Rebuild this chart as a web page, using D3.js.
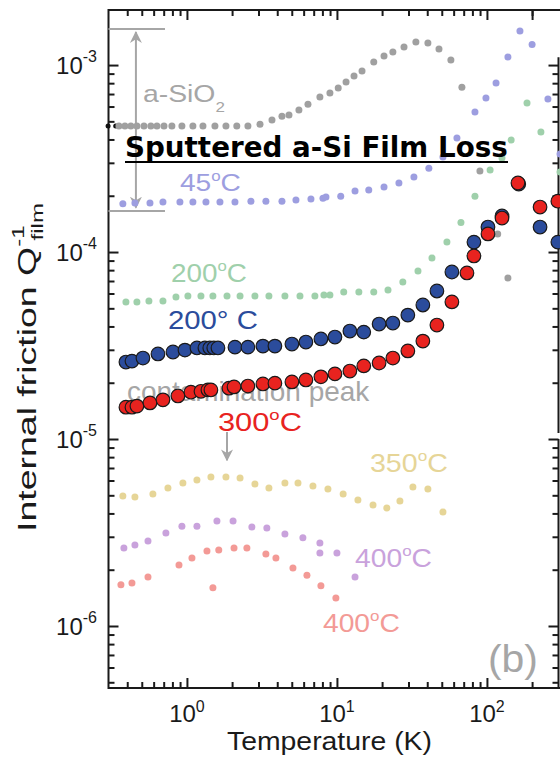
<!DOCTYPE html>
<html>
<head>
<meta charset="utf-8">
<script src="https://cdn.jsdelivr.net/npm/d3@7"></script>
<style>
  body { margin: 0; background: #fff; }
  text { font-family: "Liberation Sans", Arial, sans-serif; }
</style>
</head>
<body>
<div id="chart"></div>
<script>

// each point is [temperature (K), internal friction Q^-1]
var blackDots = [[0.298, 4.72e-4], [0.335, 4.72e-4]];

var aSiO2 = [[0.352,4.72e-4],[0.386,4.72e-4],[0.423,4.72e-4],[0.464,4.72e-4],[0.517,4.72e-4],
  [0.575,4.72e-4],[0.631,4.72e-4],[0.703,4.72e-4],[0.794,4.72e-4],[0.926,4.72e-4],[1.096,4.72e-4],
  [1.279,4.72e-4],[1.537,4.72e-4],[1.82,4.72e-4],[2.15,4.72e-4],[2.55,4.72e-4],[3.07,4.83e-4],
  [3.69,5.08e-4],[4.30,5.33e-4],[4.79,5.40e-4],[5.58,5.75e-4],[6.41,6.18e-4],[7.70,6.74e-4],
  [8.98,7.08e-4],[10.2,7.53e-4],[11.5,8.11e-4],[13.0,8.73e-4],[14.7,9.29e-4],[17.6,1.038e-3],
  [20.6,1.117e-3],[23.6,1.174e-3],[28.0,1.248e-3],[33.6,1.327e-3],[40.4,1.312e-3],[47.9,1.219e-3],
  [57.5,1.064e-3],[68.1,7.62e-4],[89.8,2.71e-4],[118,1.25e-4],[138,7.26e-5]];

var film45 = [[0.374,1.81e-4],[0.450,1.83e-4],[0.567,1.83e-4],[0.692,1.85e-4],[0.898,1.85e-4],
  [1.096,1.85e-4],[1.339,1.85e-4],[1.66,1.85e-4],[2.09,1.85e-4],[2.67,1.87e-4],[3.36,1.87e-4],
  [4.30,1.87e-4],[5.33,1.90e-4],[6.71,1.92e-4],[8.07,1.94e-4],[8.45,1.97e-4],[10.6,1.99e-4],
  [13.2,2.12e-4],[16.3,2.15e-4],[20.6,2.23e-4],[25.9,2.34e-4],[32.6,2.52e-4],[41.0,2.81e-4],
  [50.9,3.22e-4],[63.1,4.07e-4],[83.2,5.61e-4],[98.5,6.67e-4],[115,8.01e-4],[138,1.104e-3],
  [166,1.52e-3],[200,1.29e-3],[255,6.58e-4],[307,3.34e-4]];

var film200g = [[0.392,5.41e-5],[0.464,5.41e-5],[0.558,5.48e-5],[0.692,5.48e-5],[0.845,5.75e-5],
  [1.015,5.82e-5],[1.24,5.82e-5],[1.49,5.82e-5],[1.85,5.82e-5],[2.26,5.82e-5],[2.84,5.82e-5],
  [3.52,5.82e-5],[4.50,5.82e-5],[5.67,5.82e-5],[7.13,5.82e-5],[8.19,5.89e-5],[8.98,5.89e-5],
  [11.1,6.11e-5],[14.0,6.11e-5],[17.6,6.11e-5],[21.9,6.26e-5],[27.5,6.92e-5],[34.7,7.92e-5],
  [43.0,9.29e-5],[54.1,1.13e-4],[67.1,1.44e-4],[83.2,1.99e-4],[105,2.75e-4],[126,3.18e-4],
  [145,3.97e-4],[185,6.26e-4],[229,4.38e-4],[307,2.68e-4]];

var film200b = [[0.392,2.58e-5],[0.430,2.61e-5],[0.509,2.71e-5],[0.641,2.85e-5],[0.807,2.92e-5],
  [0.970,2.99e-5],[1.166,3.07e-5],[1.318,3.07e-5],[1.42,3.07e-5],[1.51,3.07e-5],[1.61,3.07e-5],
  [2.09,3.10e-5],[2.55,3.10e-5],[3.21,3.14e-5],[3.86,3.14e-5],[5.01,3.22e-5],[6.21,3.30e-5],
  [7.82,3.43e-5],[9.70,3.51e-5],[12.2,3.78e-5],[15.1,3.73e-5],[19.1,4.12e-5],[23.6,4.17e-5],
  [29.7,4.60e-5],[37.4,5.21e-5],[46.4,6.19e-5],[58.4,7.82e-5],[81.9,1.13e-4],[101.6,1.36e-4],
  [126,1.56e-4],[163,2.31e-4],[226,1.36e-4],[297,1.13e-4]];

var film300 = [[0.392,1.48e-5],[0.430,1.48e-5],[0.464,1.50e-5],[0.567,1.56e-5],[0.692,1.62e-5],
  [0.871,1.70e-5],[1.063,1.78e-5],[1.24,1.80e-5],[1.38,1.83e-5],[1.445,1.83e-5],[1.905,1.87e-5],
  [2.06,1.90e-5],[2.55,1.92e-5],[3.21,1.97e-5],[3.86,1.99e-5],[5.01,2.02e-5],[6.21,2.07e-5],
  [7.82,2.15e-5],[9.70,2.23e-5],[12.2,2.31e-5],[15.1,2.46e-5],[19.1,2.55e-5],[23.6,2.71e-5],
  [29.7,2.96e-5],[37.4,3.34e-5],[46.4,4.07e-5],[58.4,5.41e-5],[73.6,7.73e-5],[81.9,9.53e-5],
  [101.6,1.25e-4],[126,1.52e-4],[161,2.34e-4],[226,1.74e-4],[297,1.87e-4]];

var film350 = [[0.374,4.95e-6],[0.450,4.90e-6],[0.593,5.08e-6],[0.747,5.47e-6],[0.940,5.82e-6],
  [1.166,6.04e-6],[1.445,6.27e-6],[1.82,6.27e-6],[2.26,6.19e-6],[2.84,5.74e-6],[3.52,5.47e-6],
  [4.50,5.82e-6],[5.50,5.82e-6],[6.92,5.61e-6],[8.71,5.41e-6],[11.0,5.08e-6],[13.8,4.72e-6],
  [17.4,4.44e-6],[21.5,4.28e-6],[26.3,4.66e-6],[32.1,5.54e-6],[40.4,5.41e-6],[50.9,4.07e-6]];

var film400p = [[0.380,2.61e-6],[0.450,2.71e-6],[0.550,2.85e-6],[0.724,3.14e-6],[0.926,3.42e-6],
  [1.166,3.42e-6],[1.585,3.64e-6],[2.03,3.64e-6],[2.71,3.38e-6],[3.41,3.34e-6],[4.50,3.10e-6],
  [5.93,2.96e-6],[7.70,2.78e-6],[7.70,2.46e-6],[10.0,2.46e-6],[13.2,1.83e-6]];

var film400s = [[0.363,1.66e-6],[0.430,1.70e-6],[0.550,1.83e-6],[0.885,2.12e-6],[1.08,2.31e-6],
  [1.36,2.52e-6],[1.63,2.55e-6],[2.06,2.61e-6],[2.51,2.61e-6],[3.36,2.43e-6],[3.92,2.31e-6],
  [1.49,1.60e-6],[5.09,2.04e-6],[6.31,1.87e-6],[7.82,1.64e-6],[9.84,1.41e-6]];

var xMajor = [1, 10, 100];
var yMajor = [1e-6, 1e-5, 1e-4, 1e-3];
var xLabels = [["10", "0"], ["10", "1"], ["10", "2"]];
var yLabels = [["10", "-6"], ["10", "-5"], ["10", "-4"], ["10", "-3"]];

var width = 560, height = 763;
var plot = { left: 108.5, right: 558.5, top: 10, bottom: 688 };

var x = d3.scaleLog().domain([0.3, 300]).range([plot.left, plot.right]);
var y = d3.scaleLog().domain([4.66e-7, 1.97e-3]).range([plot.bottom, plot.top]);

var xMinor = [], yMinor = [];
[0.1, 1, 10, 100].forEach(function(d) {
  for (var k = 2; k <= 9; k++) {
    var v = d * k;
    if (v > 0.31 && v < 290) xMinor.push(v);
  }
});
[1e-7, 1e-6, 1e-5, 1e-4, 1e-3].forEach(function(d) {
  for (var k = 2; k <= 9; k++) {
    var v = d * k;
    if (v > 4.7e-7 && v < 1.96e-3) yMinor.push(v);
  }
});

var svg = d3.select("#chart").append("svg")
  .attr("width", width)
  .attr("height", height);

var defs = svg.append("defs");
defs.append("marker")
  .attr("id", "head")
  .attr("viewBox", "0 0 10 10")
  .attr("refX", 9).attr("refY", 5)
  .attr("markerWidth", 6).attr("markerHeight", 7)
  .attr("markerUnits", "strokeWidth")
  .attr("orient", "auto-start-reverse")
  .append("path")
  .attr("d", "M0,0 L10,5 L0,10 L3,5 Z")
  .attr("fill", "#a6a6a6");

// stretch a text horizontally so that it spans `target` px from its left edge
function stretchTo(t, target) {
  var b = t.node().getBBox();
  var sx = target / b.width;
  t.attr("transform", "translate(" + b.x + ",0) scale(" + sx + ",1) translate(" + (-b.x) + ",0)");
}

// ---- axes ----
function drawTicks(axis, transform, values, size) {
  svg.append("g")
    .attr("transform", transform)
    .call(axis.tickValues(values).tickSize(size).tickFormat(""))
    .call(function(g) {
      g.select(".domain").remove();
      g.selectAll("line").attr("stroke", "#1a1a1a").attr("stroke-width", 2);
    });
}

var rightMinor = yMinor.filter(function(v) { return v < 1.1e-3; });
drawTicks(d3.axisBottom(x), "translate(0," + plot.bottom + ")", xMajor, -10);
drawTicks(d3.axisBottom(x), "translate(0," + plot.bottom + ")", xMinor, -6);
drawTicks(d3.axisTop(x), "translate(0," + plot.top + ")", xMajor.concat([200]), -10);
drawTicks(d3.axisTop(x), "translate(0," + plot.top + ")", xMinor, -6);
drawTicks(d3.axisLeft(y), "translate(" + plot.left + ",0)", yMajor, -10);
drawTicks(d3.axisLeft(y), "translate(" + plot.left + ",0)", yMinor, -6);
drawTicks(d3.axisLeft(y), "translate(" + plot.right + ",0)", yMajor, 10);
drawTicks(d3.axisLeft(y), "translate(" + plot.right + ",0)", rightMinor, 6);

var frame = svg.append("g").attr("stroke", "#1a1a1a").attr("stroke-width", 2).attr("fill", "none");
frame.append("path").attr("d", "M" + plot.left + "," + plot.top + "V" + (plot.bottom + 1) +
  "M" + (plot.left - 1) + "," + plot.bottom + "H" + width +
  "M" + (plot.left - 1) + "," + plot.top + "H" + width);
frame.append("path").attr("d", "M" + plot.right + "," + y(1.1e-3) + "V" + (y(1e-5) - 6) +
  "M" + plot.right + "," + y(1e-5) + "V" + plot.bottom);

// tick labels with superscripts
var tl = svg.append("g").attr("fill", "#1a1a1a");
xMajor.forEach(function(v, i) {
  var t = tl.append("text")
    .attr("x", x(v)).attr("y", 722)
    .attr("text-anchor", "middle")
    .style("font-size", "24px");
  t.append("tspan").text(xLabels[i][0]);
  t.append("tspan").attr("dy", -10).style("font-size", "16px").text(xLabels[i][1]);
});
yMajor.forEach(function(v, i) {
  var t = tl.append("text")
    .attr("x", 97).attr("y", y(v) + 9)
    .attr("text-anchor", "end")
    .style("font-size", "24px");
  t.append("tspan").text(yLabels[i][0]);
  t.append("tspan").attr("dy", -12).style("font-size", "16px").text(yLabels[i][1]);
});

// axis titles
var xt = svg.append("text")
  .attr("x", 227).attr("y", 750)
  .attr("fill", "#1a1a1a")
  .style("font-size", "25px")
  .text("Temperature (K)");
stretchTo(xt, 205);

var ytg = svg.append("g").attr("transform", "translate(36,532) rotate(-90)");
var yt = ytg.append("text")
  .attr("x", 0).attr("y", 0)
  .attr("fill", "#1a1a1a")
  .style("font-size", "25px");
yt.append("tspan").text("Internal friction Q");
yt.append("tspan").attr("dy", -12).style("font-size", "16px").text("-1");
yt.append("tspan").attr("dx", -10).attr("dy", 19).style("font-size", "16px").text("film");
stretchTo(yt, 329);

// ---- annotations ----
var ann = svg.append("g").attr("stroke", "#a6a6a6").attr("stroke-width", 2).attr("fill", "none");
[1.56e-3, 1.66e-4].forEach(function(v) {
  ann.append("line")
    .attr("x1", plot.left).attr("x2", x(0.714))
    .attr("y1", y(v)).attr("y2", y(v));
});
ann.append("line")
  .attr("x1", x(0.457)).attr("x2", x(0.457))
  .attr("y1", y(1.50e-3)).attr("y2", y(1.73e-4))
  .attr("marker-start", "url(#head)")
  .attr("marker-end", "url(#head)");
ann.append("line")
  .attr("x1", x(1.85)).attr("x2", x(1.85))
  .attr("y1", y(1.09e-5)).attr("y2", y(7.7e-6))
  .attr("marker-end", "url(#head)");

function label(tx, ty, parts, color, size, target) {
  var t = svg.append("text")
    .attr("x", x(tx)).attr("y", y(ty))
    .attr("fill", color)
    .style("font-size", size + "px");
  parts.forEach(function(p) {
    var s = t.append("tspan").text(p[0]);
    if (p[1] == "sup") s.attr("dy", -size * 0.45).style("font-size", (size * 0.6) + "px");
    else if (p[1] == "sub") s.attr("dy", size * 0.4).style("font-size", (size * 0.6) + "px");
    else if (p[1] == "back") s.attr("dy", size * 0.45);
  });
  stretchTo(t, target);
  return t;
}

function dots(data, color, r) {
  svg.append("g").selectAll("circle")
    .data(data)
    .enter()
    .append("circle")
    .attr("cx", function(d) { return x(d[0]); })
    .attr("cy", function(d) { return y(d[1]); })
    .attr("r", r)
    .attr("fill", color);
}

dots(blackDots, "#111", 2.5);
dots(aSiO2, "#a0a0a0", 3.5);
dots(film45, "#9d9ee0", 3.5);
dots(film200g, "#9fd0ab", 3.5);
dots(film350, "#e6d597", 3.5);
dots(film400p, "#c9a2dc", 3.5);
dots(film400s, "#f39a96", 3.5);

label(0.509, 6.34e-4, [["a-SiO", ""], ["2", "sub"]], "#a6a6a6", 24, 82);
label(0.898, 2.12e-4, [["45", ""], ["o", "sup"], ["C", "back"]], "#9d9ee0", 23, 61);
label(0.782, 6.92e-5, [["200", ""], ["o", "sup"], ["C", "back"]], "#9fd0ab", 25, 76);
label(0.747, 3.87e-5, [["200\u00b0 C", ""]], "#2b4c9c", 25, 90);
label(0.398, 1.60e-5, [["contamination peak", ""]], "#a6a6a6", 27, 243);
label(1.61, 1.10e-5, [["300", ""], ["o", "sup"], ["C", "back"]], "#e8231f", 25, 84);
label(16.6, 6.67e-6, [["350", ""], ["o", "sup"], ["C", "back"]], "#e6d597", 25, 78);
label(13.2, 2.07e-6, [["400", ""], ["o", "sup"], ["C", "back"]], "#c9a2dc", 25, 77);
label(8.07, 9.29e-7, [["400", ""], ["o", "sup"], ["C", "back"]], "#f39a96", 25, 77);

var tb = svg.append("text")
  .attr("x", 488).attr("y", 672)
  .attr("fill", "#a6a6a6")
  .style("font-size", "38px")
  .text("(b)");
stretchTo(tb, 50);

function bigDots(data, color) {
  svg.append("g").selectAll("circle")
    .data(data)
    .enter()
    .append("circle")
    .attr("cx", function(d) { return x(d[0]); })
    .attr("cy", function(d) { return y(d[1]); })
    .attr("r", 6.8)
    .attr("fill", color)
    .attr("stroke", "#1a1a1a")
    .attr("stroke-width", 1.2);
}
bigDots(film200b, "#2b4c9c");
bigDots(film300, "#e8231f");

// title
var title = svg.append("text")
  .attr("x", 125).attr("y", 157)
  .attr("fill", "#000")
  .style("font-family", "'DejaVu Sans', sans-serif")
  .style("font-weight", "bold")
  .style("font-size", "24px")
  .text("Sputtered a-Si Film Loss");
var tw = title.node().getComputedTextLength();
title.style("font-size", (24 * 383 / tw) + "px");
svg.append("line")
  .attr("x1", 125).attr("x2", 508)
  .attr("y1", 162).attr("y2", 162)
  .attr("stroke", "#000").attr("stroke-width", 2);

</script>
</body>
</html>
